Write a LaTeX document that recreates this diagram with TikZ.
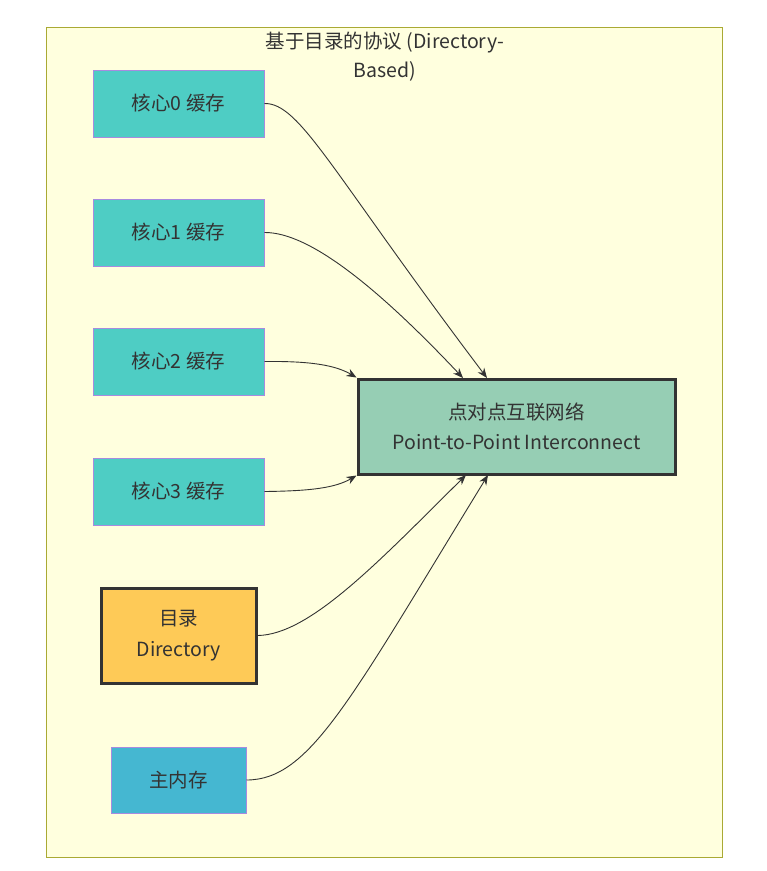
\documentclass[tikz,border=0pt]{standalone}
\usepackage{fontspec}
\setmainfont{Noto Sans CJK SC}
\usetikzlibrary{arrows.meta}
\definecolor{clfill}{HTML}{FFFFDE}
\definecolor{clline}{HTML}{AAAA33}
\definecolor{corefill}{HTML}{4ECDC4}
\definecolor{dirfill}{HTML}{FECA57}
\definecolor{memfill}{HTML}{45B7D1}
\definecolor{icfill}{HTML}{96CEB4}
\definecolor{purp}{HTML}{A78BE0}
\definecolor{txt}{HTML}{333333}
\tikzset{
  box/.style={draw=purp, line width=1pt, minimum width=171pt, minimum height=67pt, inner sep=0pt, text=txt, font=\fontsize{19.5}{24}\selectfont, align=center},
  corebox/.style={box, fill=corefill},
  thickbox/.style={draw=txt, line width=3pt, inner sep=0pt, text=txt, font=\fontsize{19.5}{30.5}\selectfont, align=center},
  conn/.style={draw=txt, line width=0.9pt, -{Stealth[length=10pt,width=8pt]}}
}
\begin{document}
\begin{tikzpicture}[x=1pt,y=-1pt]
\useasboundingbox (0,0) rectangle (767,871);
\draw[fill=clfill, draw=clline, line width=1pt] (46,27) rectangle (722,857);
\node[text=txt, font=\fontsize{19.5}{29}\selectfont, align=center] (title) at (385,56.5) {基于目录的协议 (Directory-\\Based)};
\node[corebox] (c0) at (178.5,103.5) {核心0 缓存};
\node[corebox] (c1) at (178.5,232.5) {核心1 缓存};
\node[corebox] (c2) at (178.5,361.5) {核心2 缓存};
\node[corebox] (c3) at (178.5,491.5) {核心3 缓存};
\node[thickbox, fill=dirfill, minimum width=155pt, minimum height=95pt] (dir) at (178.5,635.5) {目录\\Directory};
\node[box, fill=memfill, minimum width=135pt, minimum height=66pt] (mem) at (178.5,780) {主内存};
\node[thickbox, fill=icfill, minimum width=317pt, minimum height=95pt] (ic) at (516.5,426.5) {点对点互联网络\\Point-to-Point Interconnect};
\coordinate (t0) at (487,378);
\coordinate (t1) at (463,378);
\coordinate (t4) at (466,475);
\coordinate (t5) at (488,475);
\draw[conn] (c0.east) .. controls (300,103) and (330,170) .. (t0);
\draw[conn] (c1.east) .. controls (310,232) and (380,290) .. (t1);
\draw[conn] (c2.east) .. controls (310,361) and (335,365) .. (ic.north west);
\draw[conn] (c3.east) .. controls (310,491) and (335,488) .. (ic.south west);
\draw[conn] (dir.east) .. controls (310,635) and (380,560) .. (t4);
\draw[conn] (mem.east) .. controls (310,780) and (350,700) .. (t5);
\end{tikzpicture}
\end{document}
